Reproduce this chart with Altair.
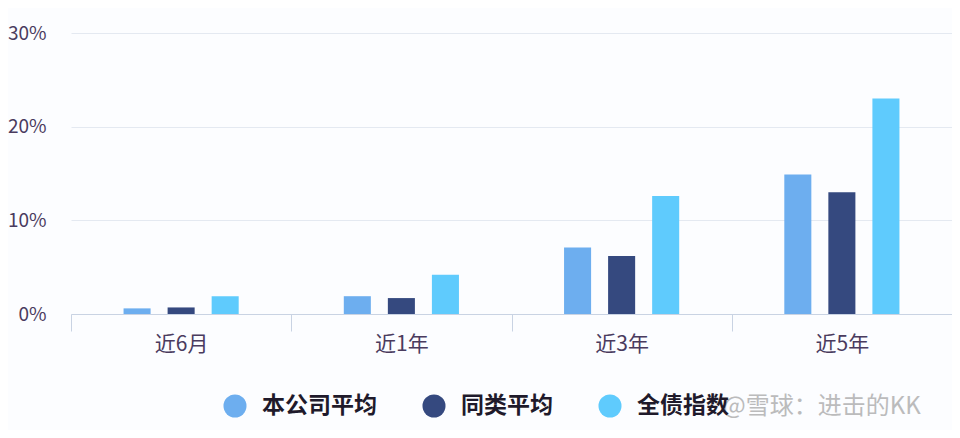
import altair as alt
import pandas as pd

categories = ["近6月", "近1年", "近3年", "近5年"]
series = ["本公司平均", "同类平均", "全债指数"]
company_avg = [0.6, 1.9, 7.1, 14.9]
peer_avg = [0.7, 1.7, 6.2, 13.0]
bond_index = [1.9, 4.2, 12.6, 23.0]
y_ticks = [0, 10, 20, 30]
colors = ["#6daeef", "#35497f", "#5fcbfd"]

rows = []
for s, vals in zip(series, [company_avg, peer_avg, bond_index]):
    for c, v in zip(categories, vals):
        rows.append({"period": c, "series": s, "value": v})
df = pd.DataFrame(rows)

# slot layout inside each category band: empty slot, three series, empty slot
offset_domain = ["_l"] + series + ["_r"]

FONT = "Noto Sans CJK SC"
LABEL_COLOR = "#4a3b5e"

bars = alt.Chart(df).mark_bar().encode(
    x=alt.X("period:N", sort=categories, title=None,
            scale=alt.Scale(paddingInner=0, paddingOuter=0),
            axis=alt.Axis(labelAngle=0, labelFontSize=21, labelColor=LABEL_COLOR,
                          labelFont=FONT, domainColor="#c9d3e3", tickColor="#c9d3e3",
                          tickBand="extent", tickSize=17, labelPadding=2, grid=False)),
    xOffset=alt.XOffset("series:N",
                        scale=alt.Scale(domain=offset_domain, paddingInner=0.386,
                                        paddingOuter=0.193)),
    y=alt.Y("value:Q", title=None,
            scale=alt.Scale(domain=[0, 30], nice=False),
            axis=alt.Axis(values=y_ticks, labelExpr="datum.value + '%'",
                          labelFontSize=19, labelColor=LABEL_COLOR, labelFont=FONT,
                          ticks=False, domain=False, gridColor="#e4e9f1",
                          labelPadding=25)),
    color=alt.Color("series:N", sort=series,
                    scale=alt.Scale(domain=series, range=colors),
                    legend=alt.Legend(title=None, orient="none", direction="horizontal",
                                      legendX=152, legendY=361, gridAlign="none",
                                      symbolType="circle", symbolSize=530,
                                      symbolStrokeWidth=0, symbolOpacity=1,
                                      labelFontSize=23, labelFontWeight="bold",
                                      labelColor="#1f1a2b", labelFont=FONT,
                                      labelOffset=15, columnPadding=45)),
)

watermark = alt.Chart(pd.DataFrame({"t": ["@雪球：进击的KK"]})).mark_text(
    align="left", baseline="middle", fontSize=24, color="#a6a6a6", opacity=0.75, font=FONT
).encode(x=alt.value(652), y=alt.value(374), text="t:N")

chart = alt.layer(bars, watermark).properties(
    width=881, height=281,
    autosize="none",
    padding={"left": 63, "top": 25, "right": 0, "bottom": 116},
    background="#fcfdff",
).configure_view(stroke=None)

chart.save("out.html", embed_options={"renderer": "svg", "actions": False})
